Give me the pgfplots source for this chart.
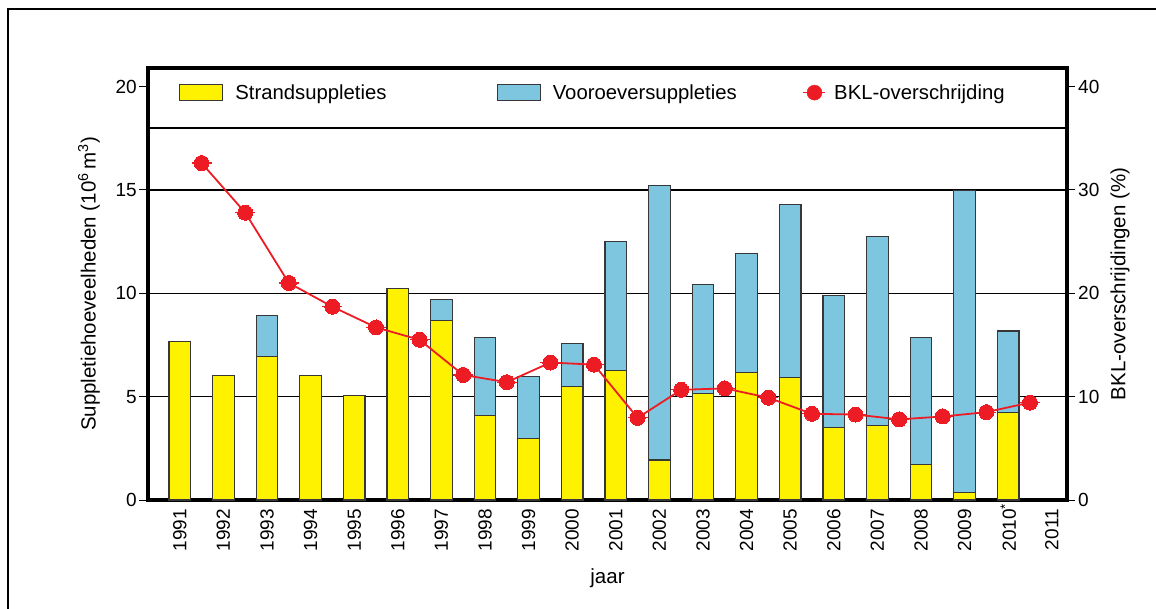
\documentclass[border=0pt]{standalone}
\usepackage{fontspec}
\setmainfont{Liberation Sans}
\usepackage{pgfplots}
\usepackage{pgfplotstable}
\pgfplotsset{compat=1.18}
\definecolor{byellow}{RGB}{255,242,0}
\definecolor{bblue}{RGB}{126,198,223}
\definecolor{bred}{RGB}{237,28,36}
\definecolor{bedge}{RGB}{55,55,55}

\pgfplotstableread{
x y b
0 7.65 0
1 6.04 0
2 6.93 1.98
3 6.04 0
4 5.04 0
5 10.23 0
6 8.70 1.00
7 4.09 3.77
8 2.97 3.00
9 5.50 2.09
10 6.28 6.22
11 1.94 13.27
12 5.14 5.28
13 6.17 5.74
14 5.91 8.40
15 3.49 6.40
16 3.62 9.12
17 1.73 6.14
18 0.38 14.59
19 4.22 3.96
}\bars

\pgfplotstableread{
x p
0.5 32.6
1.5 27.8
2.5 21.0
3.5 18.7
4.5 16.7
5.5 15.5
6.5 12.1
7.5 11.4
8.5 13.3
9.5 13.1
10.5 7.95
11.5 10.66
12.5 10.8
13.5 9.9
14.5 8.34
15.5 8.27
16.5 7.8
17.5 8.08
18.5 8.5
19.5 9.43
}\bkl

\begin{document}
\begin{tikzpicture}[x=1pt,y=1pt]
\useasboundingbox (0,0) rectangle (1156,608);
\draw[line width=2.5pt] (8,-2) -- (8,599) -- (1158,599);
\begin{axis}[
  at={(148pt,108pt)}, anchor=south west, scale only axis,
  width=919pt, height=432pt,
  xmin=-0.73, xmax=20.35, ymin=0, ymax=20.9,
  ybar stacked, bar width=21.5pt,
  axis line style={line width=4pt},
  xtick={0,...,20},
  xticklabels={1991,1992,1993,1994,1995,1996,1997,1998,1999,2000,2001,2002,2003,2004,2005,2006,2007,2008,2009,2010\rlap{\textsuperscript{*}},2011},
  xtick style={draw=none},
  xticklabel style={rotate=90, anchor=east, inner sep=0pt},
  ytick={0,5,10,15,20},
  ytick pos=left,
  tick align=outside,
  major tick length=9pt,
  ytick style={line width=1pt, black},
  yticklabel style={inner sep=0pt, xshift=-2pt},
  /pgf/number format/assume math mode=true,
  tick label style={font=\fontsize{19}{22}\selectfont},
  extra y ticks={5,10,15,18},
  extra y tick labels={},
  extra y tick style={grid=major, major tick length=0pt},
  grid style={line width=1.3pt, black},
  label style={font=\fontsize{20.5}{24}\selectfont},
  ylabel={Suppletiehoeveelheden (10\textsuperscript{6}\,m\textsuperscript{3})},
  ylabel style={at={(axis description cs:-0.0642,0.5)}, anchor=center},
  xlabel={jaar},
  xlabel style={at={(axis description cs:0.5,-0.1806)}, anchor=center},
  legend columns=3,
  legend cell align=left,
  legend style={at={(0.0337,0.943)}, anchor=west, draw=none, fill=none,
    inner sep=0pt, font=\fontsize{20.3}{24}\selectfont,
    nodes={inner sep=0pt},
    /tikz/column 1/.style={column sep=12pt},
    /tikz/column 2/.style={column sep=110pt},
    /tikz/column 3/.style={column sep=12pt},
    /tikz/column 4/.style={column sep=66pt},
    /tikz/column 5/.style={column sep=8pt}},
]
\addplot[fill=byellow, draw=bedge, line width=1.2pt,
  legend image code/.code={\draw[fill=byellow, draw=bedge, line width=1.2pt] (0pt,-8pt) rectangle (43pt,8pt);}]
  table[x=x,y=y]{\bars};
\addlegendentry{Strandsuppleties}
\addplot[fill=bblue, draw=bedge, line width=1.2pt,
  legend image code/.code={\draw[fill=bblue, draw=bedge, line width=1.2pt] (0pt,-8pt) rectangle (43pt,8pt);}]
  table[x=x,y=b]{\bars};
\addlegendentry{Vooroeversuppleties}
\addlegendimage{legend image code/.code={\draw[bred, line width=1.5pt] (0pt,0pt) -- (22pt,0pt); \fill[bred] (11pt,0pt) circle (7.5pt);}}
\addlegendentry{BKL-overschrijding}
\end{axis}
\begin{axis}[
  at={(148pt,108pt)}, anchor=south west, scale only axis,
  width=919pt, height=432pt,
  xmin=-0.73, xmax=20.35, ymin=0, ymax=41.8,
  axis x line=none, axis y line*=right,
  axis line style={line width=4pt},
  ytick={0,10,20,30,40},
  tick align=outside,
  major tick length=8pt,
  ytick style={line width=1pt, black},
  yticklabel style={inner sep=0pt, xshift=3pt},
  /pgf/number format/assume math mode=true,
  tick label style={font=\fontsize{19}{22}\selectfont},
  label style={font=\fontsize{20.5}{24}\selectfont},
  ylabel={BKL-overschrijdingen (\%)},
  ylabel style={at={(axis description cs:1.0577,0.5)}, anchor=center},
]
\addplot[bred, line width=1.8pt, mark=*, mark size=7.5pt, mark options={fill=bred, draw=bred, line width=0pt}]
  table[x=x,y=p]{\bkl};
\addplot[bred, only marks, mark=-, mark size=10pt, mark options={line width=1.2pt}]
  table[x=x,y=p]{\bkl};
\end{axis}
\end{tikzpicture}
\end{document}
